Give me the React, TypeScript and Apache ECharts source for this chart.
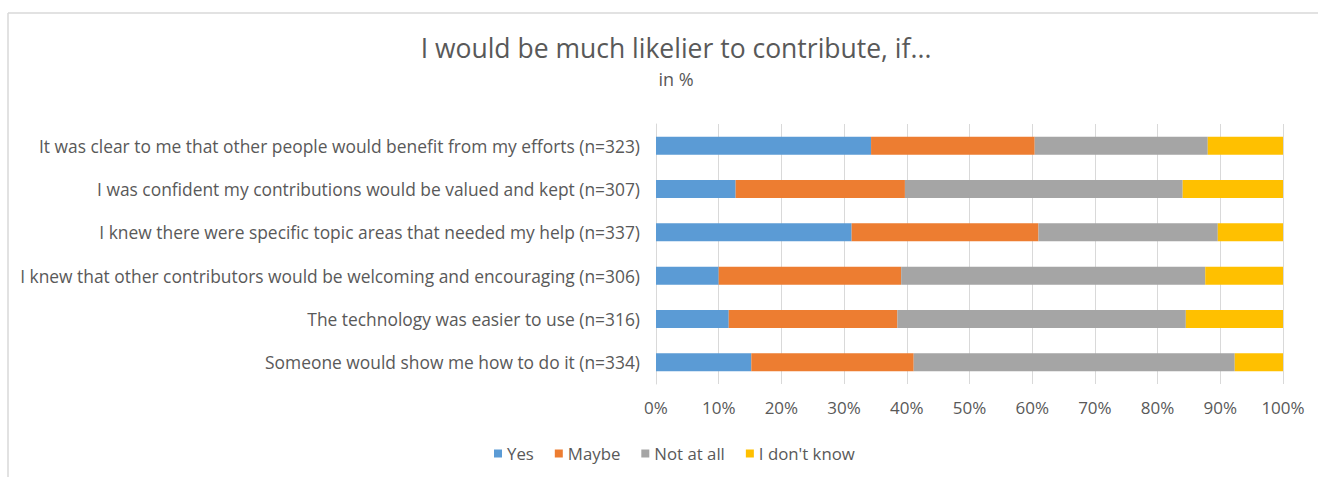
import React, { useEffect, useRef } from "react";
import * as echarts from "echarts";

const categories = [
  "It was clear to me that other people would benefit from my efforts (n=323)",
  "I was confident my contributions would be valued and kept (n=307)",
  "I knew there were specific topic areas that needed my help (n=337)",
  "I knew that other contributors would be welcoming and encouraging (n=306)",
  "The technology was easier to use (n=316)",
  "Someone would show me how to do it (n=334)",
];
const yes = [34.3, 12.7, 31.2, 10.0, 11.6, 15.2];
const maybe = [26.1, 27.0, 29.8, 29.1, 26.9, 25.9];
const notAtAll = [27.6, 44.3, 28.6, 48.5, 46.0, 51.2];
const dontKnow = [12.0, 16.0, 10.4, 12.4, 15.5, 7.7];
const seriesNames = ["Yes", "Maybe", "Not at all", "I don't know"];
const colors = ["#5b9bd5", "#ed7d31", "#a5a5a5", "#ffc000"];

export default function App() {
  const ref = useRef<HTMLDivElement>(null);
  useEffect(() => {
    if (!ref.current) return;
    const chart = echarts.init(ref.current, null, { renderer: "svg" });
    const font = "Open Sans, Calibri, Noto Sans, sans-serif";
    const data = [yes, maybe, notAtAll, dontKnow];
    chart.setOption({
      animation: false,
      backgroundColor: "#ffffff",
      textStyle: { fontFamily: font },
      title: {
        text: "I would be much likelier to contribute, if...",
        subtext: "in %",
        left: 671,
        textAlign: "center",
        top: 29,
        itemGap: 9,
        textStyle: { fontSize: 26.5, fontWeight: "normal", color: "#595959", fontFamily: font },
        subtextStyle: { fontSize: 18, color: "#595959", fontFamily: font },
      },
      legend: {
        bottom: 10,
        left: 489,
        itemWidth: 8,
        itemHeight: 8,
        itemGap: 21,
        icon: "rect",
        textStyle: { fontSize: 16.8, color: "#595959", fontFamily: font },
        data: seriesNames,
      },
      grid: { left: 656, right: 35, top: 124, height: 260 },
      xAxis: {
        type: "value",
        min: 0,
        max: 100,
        interval: 10,
        axisLabel: {
          formatter: "{value}%",
          fontSize: 17,
          color: "#595959",
          margin: 15,
        },
        splitLine: { show: true, lineStyle: { color: "#d9d9d9", width: 1 } },
        axisLine: { show: false },
        axisTick: { show: false },
      },
      yAxis: {
        type: "category",
        inverse: true,
        data: categories,
        axisLabel: { fontSize: 17.4, color: "#595959", margin: 16 },
        axisLine: { show: true, lineStyle: { color: "#d9d9d9" } },
        axisTick: { show: false },
      },
      series: seriesNames.map((name, i) => ({
        name,
        type: "bar",
        stack: "total",
        barWidth: 18,
        data: data[i],
        itemStyle: { color: colors[i] },
      })),
      graphic: [
        {
          type: "line",
          shape: { x1: 8, y1: 13, x2: 1318, y2: 13 },
          style: { stroke: "#d9d9d9", lineWidth: 1.5 },
          silent: true,
        },
        {
          type: "line",
          shape: { x1: 8, y1: 13, x2: 8, y2: 477 },
          style: { stroke: "#d9d9d9", lineWidth: 1.5 },
          silent: true,
        },
      ],
    });
    return () => chart.dispose();
  }, []);
  return (
    <div
      ref={ref}
      style={{ position: "fixed", left: 0, top: 0, width: 1318, height: 477 }}
    />
  );
}
